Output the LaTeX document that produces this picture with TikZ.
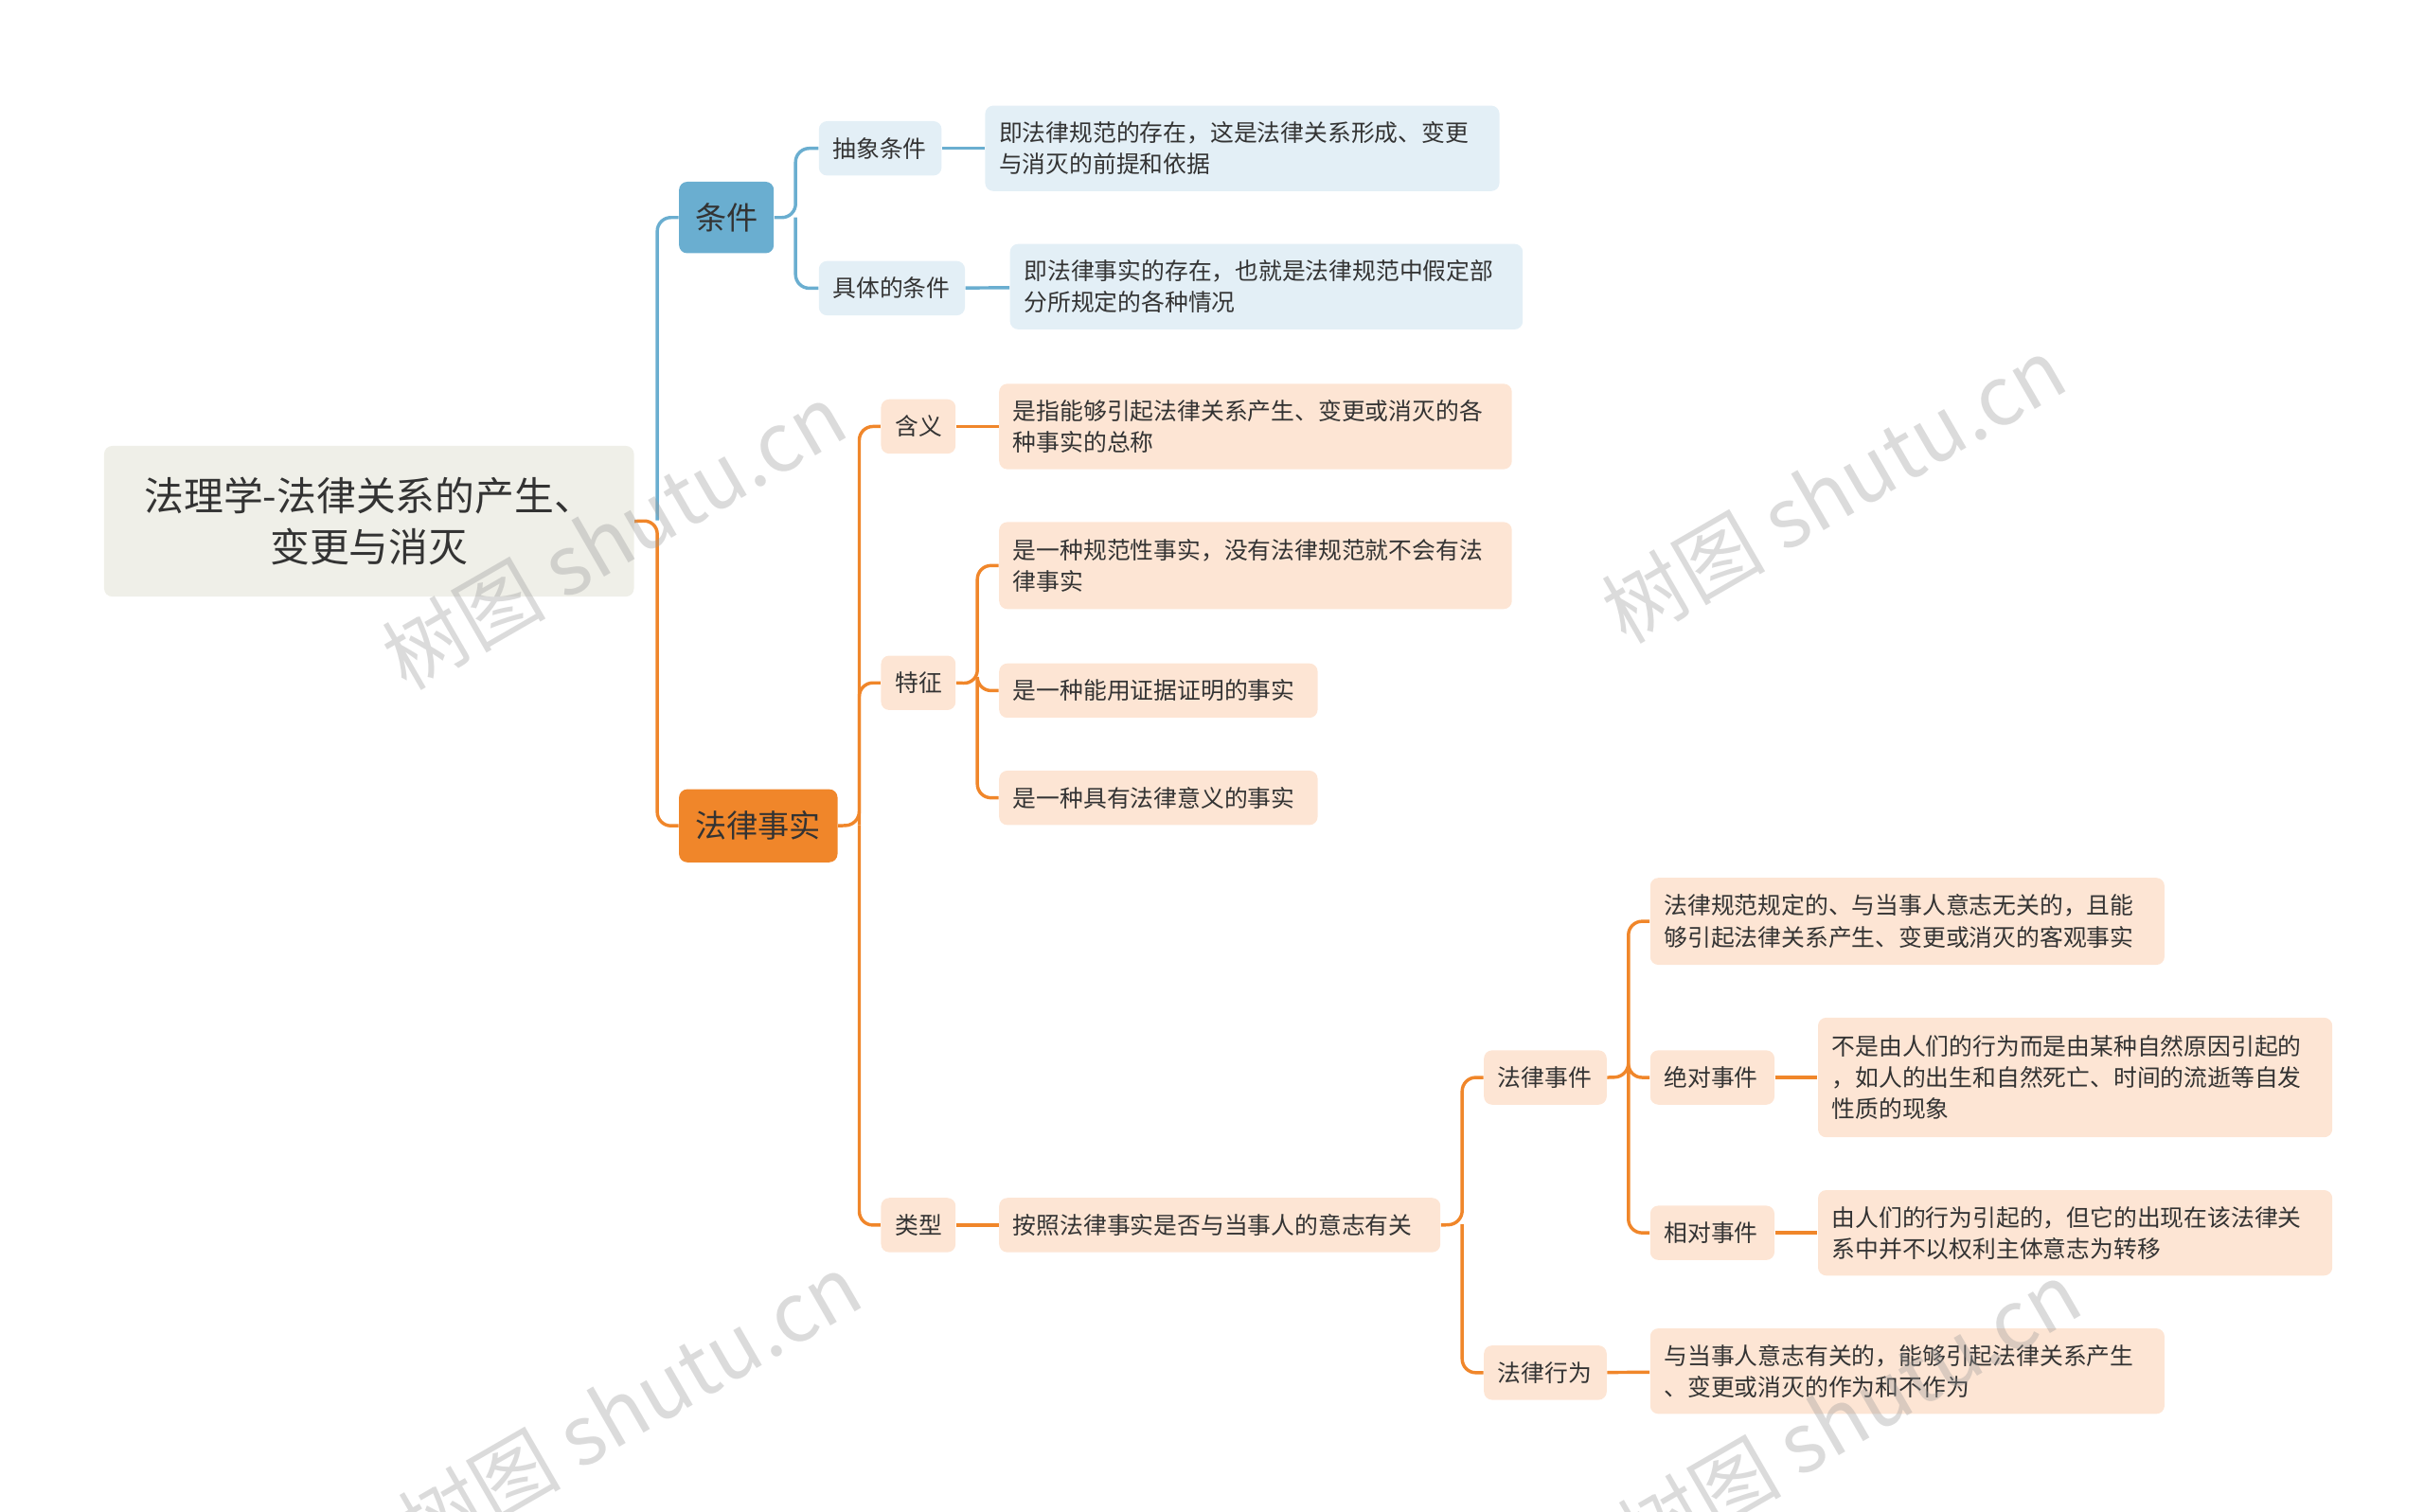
\documentclass[tikz,border=0pt]{standalone}
\usepackage{fontspec}
\setmainfont{Noto Sans CJK SC}
\definecolor{bl}{HTML}{6AAED0}
\definecolor{or}{HTML}{F0862A}
\definecolor{lb}{HTML}{E3EFF6}
\definecolor{lo}{HTML}{FDE5D4}
\definecolor{rt}{HTML}{EFEFE8}
\definecolor{tx}{HTML}{333333}
\begin{document}
\begin{tikzpicture}[x=0.02cm,y=-0.02cm,
 box/.style={rounded corners=3pt,inner sep=0pt,text=tx,font=\fontsize{8.6}{11.5}\selectfont},
 bbox/.style={box,fill=lb},
 obox/.style={box,fill=lo},
 bl/.style={draw=bl,line width=1.2pt,rounded corners=5pt},
 ol/.style={draw=or,line width=1.2pt,rounded corners=5pt},
 wm/.style={text=black!40,opacity=0.35,rotate=30,font=\fontsize{30}{30}\selectfont}]
\useasboundingbox (0,0) rectangle (1560,973);
\newcommand{\bx}[6]{\node[minimum width={(#4-#2)*0.02cm},minimum height={(#5-#3)*0.02cm},text width={(#4-#2-18)*0.02cm},align=left,#1] (#6) at ({(#2+#4)/2},{(#3+#5)/2})}
\bx{box,fill=rt,align=center,font=\fontsize{14.5}{19}\selectfont}{67}{287}{408}{384}{root}{法理学-法律关系的产生、\\变更与消灭};
\bx{box,fill=bl,align=center,font=\fontsize{11.5}{14}\selectfont}{437}{117}{498}{163}{tj}{条件};
\bx{box,fill=or,align=center,font=\fontsize{11.5}{14}\selectfont}{437}{508}{539}{555}{fs}{法律事实};
\bx{bbox}{527}{78}{606}{113}{cx}{抽象条件};
\bx{bbox}{527}{168}{621}{203}{jt}{具体的条件};
\bx{bbox}{634}{68}{965}{123}{t1}{即法律规范的存在，这是法律关系形成、变更\\与消灭的前提和依据};
\bx{bbox}{650}{157}{980}{212}{t2}{即法律事实的存在，也就是法律规范中假定部\\分所规定的各种情况};
\bx{obox}{567}{257}{615}{292}{hy}{含义};
\bx{obox}{643}{247}{973}{302}{t3}{是指能够引起法律关系产生、变更或消灭的各\\种事实的总称};
\bx{obox}{567}{422}{615}{457}{tz}{特征};
\bx{obox}{643}{336}{973}{392}{t4}{是一种规范性事实，没有法律规范就不会有法\\律事实};
\bx{obox}{643}{427}{848}{462}{t5}{是一种能用证据证明的事实};
\bx{obox}{643}{496}{848}{531}{t6}{是一种具有法律意义的事实};
\bx{obox}{567}{771}{615}{806}{lx}{类型};
\bx{obox}{643}{771}{927}{806}{az}{按照法律事实是否与当事人的意志有关};
\bx{obox}{955}{676}{1034}{711}{sj}{法律事件};
\bx{obox}{955}{866}{1034}{901}{xw}{法律行为};
\bx{obox}{1062}{565}{1393}{621}{t7}{法律规范规定的、与当事人意志无关的，且能\\够引起法律关系产生、变更或消灭的客观事实};
\bx{obox}{1062}{676}{1142}{711}{jd}{绝对事件};
\bx{obox}{1062}{776}{1142}{811}{xd}{相对事件};
\bx{obox}{1170}{655}{1501}{732}{t8}{不是由人们的行为而是由某种自然原因引起的\\，如人的出生和自然死亡、时间的流逝等自发\\性质的现象};
\bx{obox}{1170}{766}{1501}{821}{t9}{由人们的行为引起的，但它的出现在该法律关\\系中并不以权利主体意志为转移};
\bx{obox}{1062}{855}{1393}{910}{t10}{与当事人意志有关的，能够引起法律关系产生\\、变更或消灭的作为和不作为};
\draw[ol] (root.east) -- (423,335) |- (fs.west);
\draw[bl] (423,335) |- (tj.west);
\draw[bl] (tj.east) -- (512,140) |- (cx.west);
\draw[bl] (512,140) |- (jt.west);
\draw[bl] (cx) -- (t1); \draw[bl] (jt) -- (t2);
\draw[ol] (fs.east) -- (553,531) |- (hy.west);
\draw[ol] (553,531) |- (tz.west);
\draw[ol] (553,531) |- (lx.west);
\draw[ol] (hy) -- (t3);
\draw[ol] (tz.east) -- (629,440) |- (t4.west);
\draw[ol] (629,440) |- (t5.west);
\draw[ol] (629,440) |- (t6.west);
\draw[ol] (lx) -- (az);
\draw[ol] (az.east) -- (941,788) |- (sj.west);
\draw[ol] (941,788) |- (xw.west);
\draw[ol] (sj.east) -- (1048,693) |- (t7.west);
\draw[ol] (1048,693) |- (jd.west);
\draw[ol] (1048,693) |- (xd.west);
\draw[ol] (jd) -- (t8); \draw[ol] (xd) -- (t9); \draw[ol] (xw) -- (t10);
\node[wm] at (395,345) {树图 shutu.cn};
\node[wm] at (1180,315) {树图 shutu.cn};
\node[wm] at (405,905) {树图 shutu.cn};
\node[wm] at (1190,910) {树图 shutu.cn};
\end{tikzpicture}
\end{document}
